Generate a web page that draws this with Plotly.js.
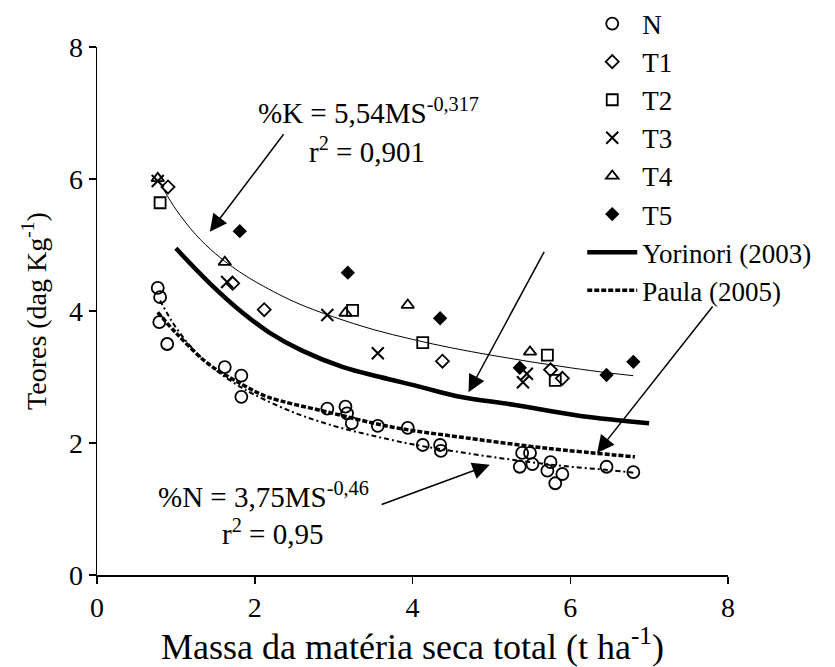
<!DOCTYPE html>
<html><head><meta charset="utf-8">
<script src="https://cdn.plot.ly/plotly-3.0.1.min.js"></script>
<style>html,body{margin:0;padding:0;background:#fff}
#chart text{font-family:'Liberation Serif' !important;}
</style>
</head><body><div id="chart" style="width:835px;height:667px"></div>
<script>
const nX=[0.77,0.80,0.79,0.89,1.62,1.83,1.83,2.92,3.15,3.17,3.23,3.56,3.94,4.13,4.35,4.36,5.39,5.49,5.36,5.52,5.71,5.75,5.90,5.81,6.46,6.80];
const nY=[4.35,4.21,3.83,3.50,3.15,3.02,2.70,2.52,2.55,2.45,2.30,2.26,2.23,1.97,1.97,1.88,1.85,1.85,1.64,1.68,1.58,1.71,1.53,1.39,1.64,1.56];
const t1X=[0.90,1.72,2.12,4.38,5.75,5.90];
const t1Y=[5.88,4.42,4.02,3.24,3.11,2.98];
const t2X=[0.80,3.24,4.13,5.71,5.81];
const t2Y=[5.64,4.01,3.52,3.33,2.95];
const t3X=[0.77,1.65,2.92,3.56,5.45,5.40];
const t3Y=[5.97,4.44,3.94,3.36,3.05,2.92];
const t4X=[0.77,1.62,3.15,3.94,5.49];
const t4Y=[6.01,4.74,3.97,4.09,3.38];
const t5X=[1.81,3.18,4.35,5.36,6.46,6.80];
const t5Y=[5.21,4.58,3.89,3.14,3.03,3.23];
// Curves
const kFitX=[0.85,1.0,1.25,1.5,1.75,2.0,2.5,3.0,3.5,4.0,4.5,5.0,5.5,6.0,6.5,6.8];
const kFitY=[5.83,5.54,5.16,4.87,4.64,4.45,4.14,3.91,3.72,3.57,3.44,3.33,3.23,3.14,3.06,3.02];
const nFitX=[0.8,1.0,1.25,1.5,1.75,2.0,2.5,3.0,3.5,4.0,4.5,5.0,5.5,6.0,6.5,6.8];
const nFitY=[4.16,3.75,3.38,3.11,2.90,2.73,2.46,2.26,2.11,1.98,1.88,1.79,1.71,1.64,1.59,1.55];
const yorX=[1.0,1.43,1.85,2.19,2.6,3.12,3.59,4.1,4.6,5.28,6.13,7.0];
const yorY=[4.95,4.42,3.97,3.67,3.40,3.15,3.00,2.85,2.70,2.58,2.41,2.30];
const paulaX=[0.77,1.0,1.4,1.85,2.16,2.92,3.75,4.6,5.71,6.82];
const paulaY=[3.98,3.67,3.21,2.88,2.70,2.47,2.24,2.09,1.92,1.79];
const names=["N","T1","T2","T3","T4","T5","Yorinori (2003)","Paula (2005)"];
const xTicks=[0,2,4,6,8], yTicks=[0,2,4,6,8];

const F="Liberation Serif";
const ml={color:"#000",width:1.8};
const traces=[
 {x:kFitX,y:kFitY,mode:"lines",line:{color:"#000",width:1,shape:"spline"},showlegend:false,hoverinfo:"skip"},
 {x:nFitX,y:nFitY,mode:"lines",line:{color:"#000",width:2,dash:"5px,3px,2px,3px",shape:"spline"},showlegend:false,hoverinfo:"skip"},
 {x:yorX,y:yorY,mode:"lines",name:names[6],line:{color:"#000",width:4.5,shape:"spline"}},
 {x:paulaX,y:paulaY,mode:"lines",name:names[7],line:{color:"#000",width:3.5,dash:"5px,2px",shape:"spline"}},
 {x:nX,y:nY,mode:"markers",name:names[0],marker:{symbol:"circle-open",size:12,color:"#000",line:ml}},
 {x:t1X,y:t1Y,mode:"markers",name:names[1],marker:{symbol:"diamond-open",size:10,color:"#000",line:ml}},
 {x:t2X,y:t2Y,mode:"markers",name:names[2],marker:{symbol:"square-open",size:11,color:"#000",line:ml}},
 {x:t3X,y:t3Y,mode:"markers",name:names[3],marker:{symbol:"x-thin-open",size:12,color:"#000",line:{color:"#000",width:2}}},
 {x:t4X,y:t4Y,mode:"markers",name:names[4],marker:{symbol:"triangle-up-open",size:11,color:"#000",line:ml}},
 {x:t5X,y:t5Y,mode:"markers",name:names[5],marker:{symbol:"diamond",size:11,color:"#000",line:{color:"#000",width:0}}}
];
const legendOrder=[4,5,6,7,8,9,2,3];
legendOrder.forEach((ti,i)=>{traces[ti].legendrank=i+1;});

const arrowCommon={text:"",showarrow:true,arrowhead:2,arrowsize:2.3,arrowwidth:1.5,arrowcolor:"#000",xref:"x",yref:"y",axref:"x",ayref:"y",standoff:0};
const layout={
 width:835,height:667,
 margin:{l:97,r:107,t:47,b:92,autoexpand:false},
 paper_bgcolor:"#fff",plot_bgcolor:"#fff",
 font:{family:F,size:28,color:"#000"},
 showlegend:true,
 legend:{x:0.769,xanchor:"left",y:1.09,yanchor:"top",bgcolor:"rgba(0,0,0,0)",font:{family:F,size:27,color:"#000"},tracegroupgap:0,itemwidth:50},
 xaxis:{range:[0,8],tickvals:xTicks,ticktext:xTicks.map(String),ticks:"outside",ticklen:7,tickwidth:1.5,tickcolor:"#000",showline:true,linecolor:"#000",linewidth:1.5,showgrid:false,zeroline:false,
   title:{text:"Massa da matéria seca total (t ha<sup>-1</sup>)",font:{family:F,size:36,color:"#000"},standoff:10},tickfont:{family:F,size:28,color:"#000"}},
 yaxis:{range:[0,8],tickvals:yTicks,ticktext:yTicks.map(String),ticks:"outside",ticklen:7,tickwidth:1.5,tickcolor:"#000",showline:true,linecolor:"#000",linewidth:1.5,showgrid:false,zeroline:false,
   title:{text:"Teores (dag Kg<sup>-1</sup>)",font:{family:F,size:28,color:"#000"},standoff:14},tickfont:{family:F,size:28,color:"#000"}},
 annotations:[
  {...arrowCommon,x:1.43,y:5.20,ax:2.38,ay:6.70},
  {...arrowCommon,x:4.71,y:2.77,ax:5.68,ay:4.92},
  {...arrowCommon,x:6.34,y:1.85,ax:7.82,ay:4.09},
  {...arrowCommon,x:4.98,y:1.67,ax:3.59,ay:1.06},
  {text:"%K = 5,54MS<sup>-0,317</sup>",xref:"paper",yref:"paper",x:(368-97)/631,y:(575-111)/528,xanchor:"center",yanchor:"middle",showarrow:false,font:{family:F,size:29,color:"#000"}},
  {text:"r<sup>2</sup> = 0,901",xref:"paper",yref:"paper",x:(367-97)/631,y:(575-150)/528,xanchor:"center",yanchor:"middle",showarrow:false,font:{family:F,size:29,color:"#000"}},
  {text:"%N = 3,75MS<sup>-0,46</sup>",xref:"paper",yref:"paper",x:(263-97)/631,y:(575-495)/528,xanchor:"center",yanchor:"middle",showarrow:false,font:{family:F,size:29,color:"#000"}},
  {text:"r<sup>2</sup> = 0,95",xref:"paper",yref:"paper",x:(272-97)/631,y:(575-532)/528,xanchor:"center",yanchor:"middle",showarrow:false,font:{family:F,size:29,color:"#000"}}
 ]
};
Plotly.newPlot("chart",traces,layout,{displayModeBar:false,staticPlot:true});
</script></body></html>
